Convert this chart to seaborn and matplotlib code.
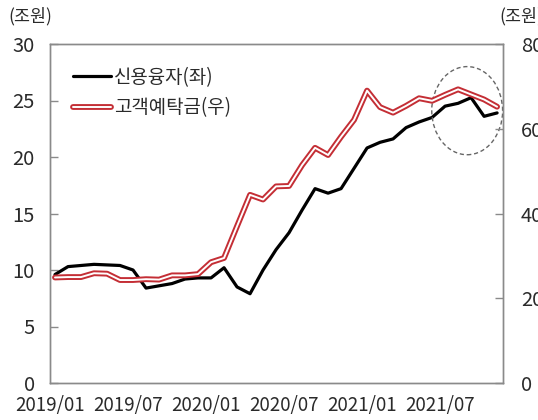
import numpy as np
import pandas as pd
import matplotlib
matplotlib.use("Agg")
import matplotlib.pyplot as plt
import matplotlib.patheffects as pe
from matplotlib.patches import Ellipse
import seaborn as sns

# monthly data, 2019/01 .. 2021/11
months = pd.date_range("2019-01-01", "2021-11-01", freq="MS").strftime("%Y/%m").tolist()

credit_loans = [9.6, 10.3, 10.4, 10.5, 10.45, 10.4, 10.0, 8.4, 8.6, 8.8, 9.2, 9.3,
                9.3, 10.2, 8.5, 7.9, 10.0, 11.8, 13.3, 15.3, 17.2, 16.8, 17.2, 19.0,
                20.8, 21.3, 21.6, 22.6, 23.1, 23.5, 24.5, 24.75, 25.25, 23.6, 23.9]

deposits = [24.9, 25.0, 25.0, 25.9, 25.8, 24.3, 24.3, 24.5, 24.4, 25.4, 25.4, 25.7,
            28.5, 29.5, 37.0, 44.4, 43.3, 46.4, 46.5, 51.4, 55.5, 53.8, 58.1, 62.1,
            69.0, 65.1, 63.8, 65.4, 67.2, 66.6, 68.0, 69.3, 68.1, 66.9, 65.2]

tick_labels = ["2019/01", "2019/07", "2020/01", "2020/07", "2021/01", "2021/07"]

left_label = "신용융자(좌)"
right_label = "고객예탁금(우)"
unit_label = "(조원)"

df = pd.DataFrame({"idx": np.arange(len(months)), "month": months,
                   "credit": credit_loans, "deposit": deposits})

sns.set_style("white")
plt.rcParams["font.family"] = ["Noto Sans CJK KR", "DejaVu Sans"]

RED = "#c42e35"
GRAY = "#8a8a8a"
TXT = "#2a2a2a"

fig = plt.figure(figsize=(5.38, 4.2), dpi=100)
ax = fig.add_axes([50 / 538, 37 / 420, 453 / 538, 339 / 420])
ax2 = ax.twinx()

sns.lineplot(data=df, x="idx", y="credit", ax=ax, color="black", linewidth=2.3,
             label=left_label, legend=False)
sns.lineplot(data=df, x="idx", y="deposit", ax=ax2, color="white", linewidth=1.4,
             label=right_label, legend=False,
             path_effects=[pe.Stroke(linewidth=4.2, foreground=RED), pe.Normal()])

off = 5 / 13
ax.set_xlim(-off, len(months) - 1 + off + 0.07)
ax.set_xticks(np.arange(0, len(months), 6) - off)
ax.set_xticklabels(tick_labels)
ax.set_ylim(0, 30)
ax.set_yticks(np.arange(0, 31, 5))
ax2.set_ylim(0, 80)
ax2.set_yticks(np.arange(0, 81, 20))
ax.set_xlabel("")
ax.set_ylabel("")
ax2.set_ylabel("")

for a in (ax, ax2):
    for s in a.spines.values():
        s.set_color(GRAY)
        s.set_linewidth(1.0)
ax.tick_params(axis="both", direction="in", length=6, width=1, color=GRAY,
               labelcolor=TXT)
ax.tick_params(axis="y", pad=11, labelsize=14.5)
ax.tick_params(axis="x", pad=9, labelsize=13.5)
ax2.tick_params(axis="y", direction="in", length=6, width=1, color=GRAY,
                labelsize=14.5, labelcolor=TXT, pad=13)

# dashed ellipse around recent months
ax.add_patch(Ellipse((31.7, 24.1), 5.45, 7.8, fill=False, edgecolor="#666666",
                     linewidth=1.0, linestyle=(0, (3, 2)), zorder=5))

h1, l1 = ax.get_legend_handles_labels()
h2, l2 = ax2.get_legend_handles_labels()
leg = ax.legend(h1 + h2, l1 + l2, loc="upper left", bbox_to_anchor=(0.034, 0.955),
                borderaxespad=0, frameon=False, fontsize=13.6, handlelength=2.0,
                handletextpad=0.17, labelspacing=0.5)
for t in leg.get_texts():
    t.set_color(TXT)

fig.text(30 / 538, 1 - 16 / 420, unit_label, ha="center", va="center", fontsize=12.5,
         color=TXT)
fig.text(499 / 538, 1 - 16 / 420, unit_label, ha="left", va="center", fontsize=12.5,
         color=TXT)

fig.savefig("out.png", dpi=100)
